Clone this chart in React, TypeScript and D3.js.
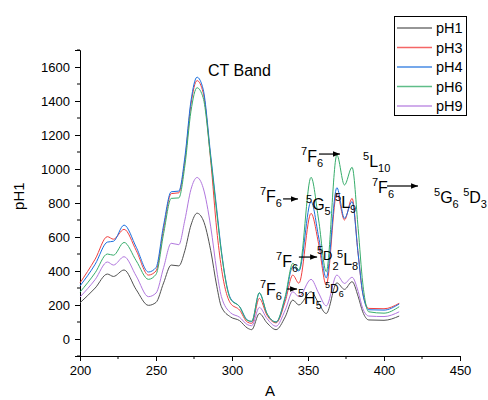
import { useEffect, useRef } from "react";
import * as d3 from "d3";

// wavelength samples (nm)
const wl = [200, 210, 218, 222, 229, 237, 245, 250, 255, 260, 265, 269, 273, 277, 281, 286, 290, 293, 299, 305, 310, 313, 318, 323, 329, 335, 340, 344, 352, 357, 362, 369, 374, 379, 383, 386, 390, 400, 410];

const pH1 = [213, 300, 382, 368, 406, 290, 198, 215, 330, 435, 430, 520, 670, 740, 700, 520, 310, 190, 130, 108, 65, 55, 150, 95, 55, 130, 229, 200, 278, 210, 150, 330, 292, 337, 250, 160, 112, 110, 135];
const pH3 = [330, 470, 602, 587, 645, 520, 376, 400, 650, 855, 860, 1050, 1380, 1520, 1450, 1050, 640, 420, 210, 170, 100, 92, 239, 140, 95, 220, 376, 328, 739, 560, 318, 857, 700, 827, 500, 270, 180, 178, 210];
const pH4 = [312, 440, 570, 575, 670, 540, 394, 420, 670, 866, 870, 1070, 1400, 1540, 1470, 1080, 760, 520, 240, 190, 112, 102, 270, 150, 100, 240, 425, 400, 808, 600, 360, 890, 710, 808, 500, 270, 172, 170, 206];
const pH6 = [276, 390, 500, 493, 568, 460, 351, 380, 620, 827, 830, 1020, 1340, 1478, 1420, 1060, 740, 510, 235, 190, 110, 105, 272, 150, 100, 250, 445, 406, 951, 700, 396, 1082, 906, 1010, 650, 330, 160, 152, 190];
const pH9 = [247, 350, 453, 435, 484, 370, 249, 270, 420, 563, 555, 700, 880, 950, 890, 660, 400, 250, 155, 128, 85, 78, 186, 120, 75, 170, 278, 249, 351, 270, 195, 376, 327, 363, 280, 180, 135, 132, 160];

const seriesNames = ["pH1", "pH3", "pH4", "pH6", "pH9"];
const seriesValues = [pH1, pH3, pH4, pH6, pH9];
const seriesColors = ["#515151", "#F14040", "#1A6FDF", "#37AD6B", "#B177DE"];

const xTicks = [200, 250, 300, 350, 400, 450];
const yTicks = [0, 200, 400, 600, 800, 1000, 1200, 1400, 1600];

// annotation labels, anchored in data coordinates
type Part = { t: string; k: "sup" | "n" | "sub" | "low" };
const labels: { x: number; y: number; size: number; small: number; parts: Part[] }[] = [
  { x: 345.4, y: 1041, size: 16, small: 11, parts: [{ t: "7", k: "sup" }, { t: "F", k: "n" }, { t: "6", k: "sub" }] },
  { x: 386.2, y: 1012, size: 16, small: 11, parts: [{ t: "5", k: "sup" }, { t: "L", k: "n" }, { t: "10", k: "sub" }] },
  { x: 392.1, y: 859, size: 16, small: 11, parts: [{ t: "7", k: "sup" }, { t: "F", k: "n" }, { t: "6", k: "sub" }] },
  { x: 432.9, y: 800, size: 16, small: 11, parts: [{ t: "5", k: "sup" }, { t: "G", k: "n" }, { t: "6", k: "sub" }, { t: " ", k: "n" }, { t: "5", k: "sup" }, { t: "D", k: "n" }, { t: "3", k: "sub" }] },
  { x: 318.4, y: 806, size: 16, small: 11, parts: [{ t: "7", k: "sup" }, { t: "F", k: "n" }, { t: "6", k: "sub" }] },
  { x: 348.7, y: 759, size: 16, small: 11, parts: [{ t: "5", k: "sup" }, { t: "G", k: "n" }, { t: "5", k: "sub" }] },
  { x: 367.8, y: 771, size: 16, small: 11, parts: [{ t: "5", k: "sup" }, { t: "L", k: "n" }, { t: "9", k: "sub" }] },
  { x: 329, y: 424, size: 16, small: 11, parts: [{ t: "7", k: "sup" }, { t: "F", k: "n" }, { t: "6", k: "sub" }] },
  { x: 355.9, y: 465, size: 13, small: 11, parts: [{ t: "5", k: "sup" }, { t: "D", k: "n" }, { t: "2", k: "low" }] },
  { x: 369.1, y: 435, size: 16, small: 11, parts: [{ t: "5", k: "sup" }, { t: "L", k: "n" }, { t: "8", k: "sub" }] },
  { x: 318.4, y: 259, size: 16, small: 11, parts: [{ t: "7", k: "sup" }, { t: "F", k: "n" }, { t: "6", k: "sub" }] },
  { x: 343.4, y: 206, size: 16, small: 11, parts: [{ t: "5", k: "sup" }, { t: "H", k: "n" }, { t: "5", k: "sub" }] },
  { x: 361.2, y: 271, size: 12, small: 9, parts: [{ t: "5", k: "sup" }, { t: "D", k: "n" }, { t: "6", k: "sub" }] },
];

const arrows = [
  { x1: 357.2, x2: 371, y: 1088 },
  { x1: 402, x2: 422.4, y: 900 },
  { x1: 333.6, x2: 343.4, y: 824 },
  { x1: 344, x2: 356, y: 482 },
  { x1: 336.2, x2: 342.8, y: 294 },
];

const FONT = "'Liberation Sans', Arial, sans-serif";

const App = () => {
  const svgRef = useRef<SVGSVGElement>(null);
  const width = 488;
  const height = 400;

  useEffect(() => {
    const svg = d3.select(svgRef.current);
    svg.selectAll("*").remove();

    const x = d3.scaleLinear().domain([200, 450]).range([80, 460]);
    const y = d3.scaleLinear().domain([-100, 1700]).range([356, 50]);

    // axes
    const xAxis = d3.axisBottom(x).tickValues(xTicks).tickSize(5).tickFormat(d3.format("d"));
    const yAxis = d3.axisLeft(y).tickValues(yTicks).tickSize(5).tickFormat(d3.format("d"));

    const gx = svg.append("g").attr("transform", `translate(0, 356)`).call(xAxis);
    const gy = svg.append("g").attr("transform", `translate(80, 0)`).call(yAxis);
    [gx, gy].forEach((g) => {
      g.select(".domain").attr("stroke", "#000").attr("stroke-width", 1);
      g.selectAll(".tick line").attr("stroke", "#000");
      g.selectAll(".tick text").attr("font-family", FONT).attr("font-size", 13).attr("fill", "#000");
    });
    gy.selectAll(".tick text").attr("x", -10);
    gx.selectAll(".tick text").attr("y", 10);

    // minor ticks
    svg
      .append("g")
      .selectAll("line")
      .data(d3.range(225, 450, 50))
      .enter()
      .append("line")
      .attr("x1", (d) => x(d))
      .attr("x2", (d) => x(d))
      .attr("y1", 356)
      .attr("y2", 359)
      .attr("stroke", "#000");
    svg
      .append("g")
      .selectAll("line")
      .data(d3.range(-100, 1800, 200))
      .enter()
      .append("line")
      .attr("x1", 77)
      .attr("x2", 80)
      .attr("y1", (d) => y(d))
      .attr("y2", (d) => y(d))
      .attr("stroke", "#000");

    // axis titles
    svg
      .append("text")
      .attr("x", x(325))
      .attr("y", 396)
      .attr("text-anchor", "middle")
      .attr("font-family", FONT)
      .attr("font-size", 15)
      .text("A");
    svg
      .append("text")
      .attr("transform", `translate(24, ${y(840)}) rotate(-90)`)
      .attr("text-anchor", "middle")
      .attr("font-family", FONT)
      .attr("font-size", 15)
      .text("pH1");

    // lines
    const line = d3
      .line<number>()
      .x((_, i) => x(wl[i]))
      .y((d) => y(d))
      .curve(d3.curveMonotoneX);

    svg
      .append("g")
      .selectAll("path")
      .data(seriesValues)
      .enter()
      .append("path")
      .attr("d", (d) => line(d))
      .attr("fill", "none")
      .attr("stroke", (_, i) => seriesColors[i])
      .attr("stroke-width", 1);

    // CT band label
    svg
      .append("text")
      .attr("x", x(284.2))
      .attr("y", y(1547))
      .attr("font-family", FONT)
      .attr("font-size", 16)
      .text("CT Band");

    // arrows
    svg
      .append("defs")
      .append("marker")
      .attr("id", "arr")
      .attr("viewBox", "0 0 10 10")
      .attr("refX", 10)
      .attr("refY", 5)
      .attr("markerWidth", 7)
      .attr("markerHeight", 7)
      .attr("markerUnits", "userSpaceOnUse")
      .attr("orient", "auto")
      .append("path")
      .attr("d", "M0,1 L10,5 L0,9 z")
      .attr("fill", "#000");

    svg
      .append("g")
      .selectAll("line")
      .data(arrows)
      .enter()
      .append("line")
      .attr("x1", (d) => x(d.x1))
      .attr("x2", (d) => x(d.x2))
      .attr("y1", (d) => y(d.y))
      .attr("y2", (d) => y(d.y))
      .attr("stroke", "#000")
      .attr("stroke-width", 1.2)
      .attr("marker-end", "url(#arr)");

    // term symbol labels
    labels.forEach((l) => {
      const t = svg
        .append("text")
        .attr("x", x(l.x))
        .attr("y", y(l.y))
        .attr("font-family", FONT)
        .attr("font-size", l.size)
        .attr("fill", "#000");
      let shift = 0;
      l.parts.forEach((p) => {
        let target = 0;
        if (p.k === "sup") target = -l.size * 0.42;
        if (p.k === "sub") target = l.size * 0.3;
        if (p.k === "low") target = l.size * 0.75;
        t.append("tspan")
          .attr("dy", target - shift)
          .attr("font-size", p.k === "n" ? l.size : l.small)
          .text(p.t);
        shift = target;
      });
    });

    // legend
    const lg = svg.append("g");
    lg.append("rect")
      .attr("x", 394.5)
      .attr("y", 16.5)
      .attr("width", 72)
      .attr("height", 99)
      .attr("fill", "#fff")
      .attr("stroke", "#000");
    seriesNames.forEach((name, i) => {
      const cy = 28 + i * 19.5;
      lg.append("line")
        .attr("x1", 397)
        .attr("x2", 432)
        .attr("y1", cy)
        .attr("y2", cy)
        .attr("stroke", seriesColors[i])
        .attr("stroke-opacity", 0.8)
        .attr("stroke-width", 1.3);
      lg.append("text")
        .attr("x", 436)
        .attr("y", cy + 5)
        .attr("font-family", FONT)
        .attr("font-size", 14.5)
        .text(name);
    });
  }, []);

  return (
    <svg
      ref={svgRef}
      width={width}
      height={height}
      style={{ position: "absolute", left: 0, top: 0, background: "#fff" }}
    />
  );
};

export default App;
